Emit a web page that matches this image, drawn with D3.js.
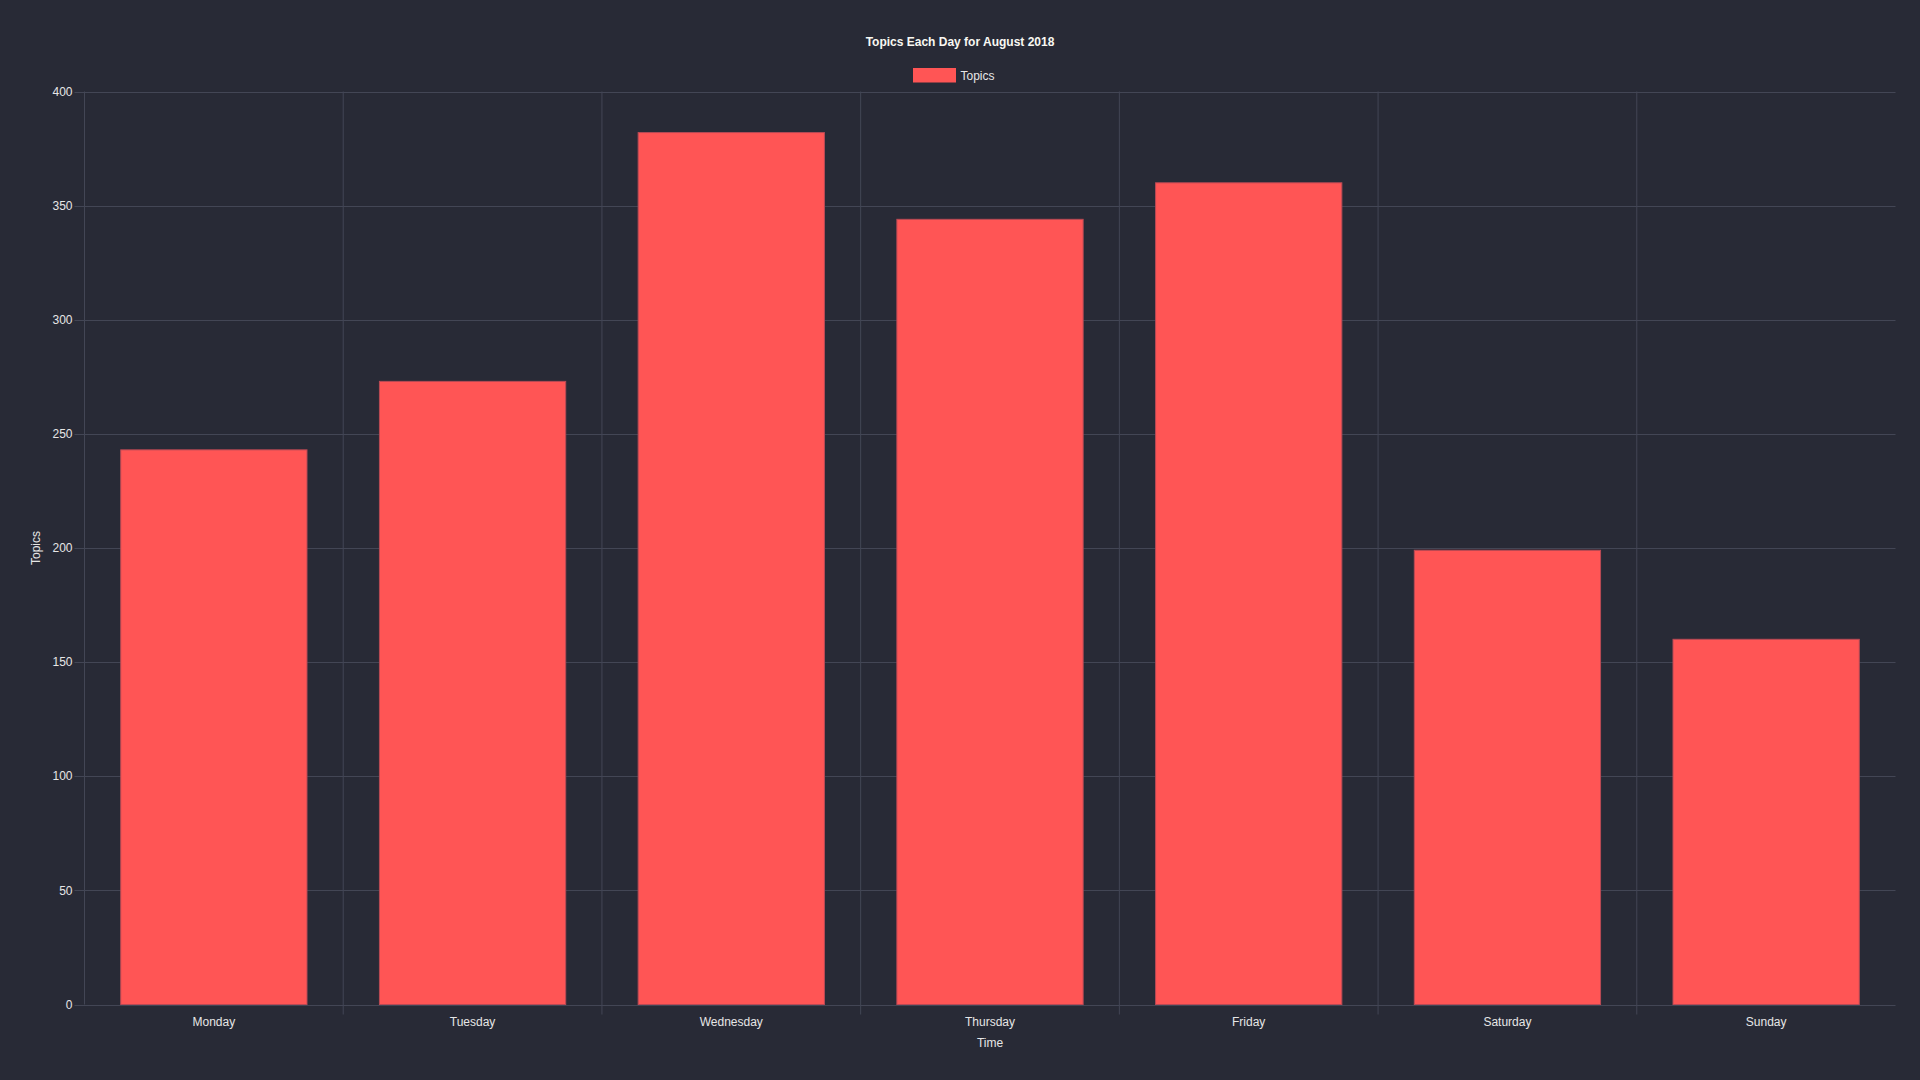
<!DOCTYPE html>
<html>
<head>
<meta charset="utf-8">
<script src="https://cdn.jsdelivr.net/npm/d3@7"></script>
<style>
  html, body { margin: 0; padding: 0; background: #282a36; }
  svg { display: block; }
</style>
</head>
<body>
<svg id="chart" width="1920" height="1080"></svg>
<script>
const categories = ["Monday", "Tuesday", "Wednesday", "Thursday", "Friday", "Saturday", "Sunday"];
const topicsValues = [243, 273, 382, 344, 360, 199, 160];
const yTicks = [0, 50, 100, 150, 200, 250, 300, 350, 400];
const titleText = "Topics Each Day for August 2018";
const seriesName = "Topics";
const xAxisTitle = "Time";
const yAxisTitle = "Topics";

const W = 1920, H = 1080;
const plot = { left: 84.5, right: 1895.5, top: 91.5, bottom: 1004.5 };
const gridColor = "#434655";
const barColor = "#ff5555";
const textColor = "#e6e6e6";
const font = "'Liberation Sans', Arial, Helvetica, sans-serif";

const svg = d3.select("#chart");
svg.append("rect").attr("width", W).attr("height", H).attr("fill", "#282a36");

const x = d3.scaleBand().domain(categories).range([plot.left, plot.right]).paddingInner(0).paddingOuter(0);
const y = d3.scaleLinear().domain([0, 400]).range([plot.bottom, plot.top]);

// Horizontal gridlines with tick marks
const gH = svg.append("g");
yTicks.forEach(t => {
  gH.append("line")
    .attr("x1", plot.left - 10).attr("x2", plot.right)
    .attr("y1", Math.round(y(t)) + 0.5).attr("y2", Math.round(y(t)) + 0.5)
    .attr("stroke", gridColor).attr("stroke-width", 1);
});

// Vertical gridlines at category boundaries (no right border)
const bounds = categories.map(c => x(c));
bounds.forEach((bx, i) => {
  gH.append("line")
    .attr("x1", bx).attr("x2", bx)
    .attr("y1", plot.top).attr("y2", i === 0 ? plot.bottom : plot.bottom + 10)
    .attr("stroke", gridColor).attr("stroke-width", 1);
});

// Bars
const barW = x.bandwidth() * 0.72;
svg.append("g").selectAll("rect").data(categories).join("rect")
  .attr("x", c => x(c) + (x.bandwidth() - barW) / 2)
  .attr("y", (c, i) => y(topicsValues[i]))
  .attr("width", barW)
  .attr("height", (c, i) => y(0) - y(topicsValues[i]))
  .attr("fill", barColor)
  .attr("stroke", "#b94a55")
  .attr("stroke-width", 1);

// Y tick labels
svg.append("g").selectAll("text").data(yTicks).join("text")
  .attr("x", plot.left - 12)
  .attr("y", t => y(t))
  .attr("dy", "0.35em")
  .attr("text-anchor", "end")
  .attr("font-family", font).attr("font-size", 12)
  .attr("fill", textColor)
  .text(t => t);

// X tick labels
svg.append("g").selectAll("text").data(categories).join("text")
  .attr("x", c => x(c) + x.bandwidth() / 2)
  .attr("y", plot.bottom + 21)
  .attr("text-anchor", "middle")
  .attr("font-family", font).attr("font-size", 12)
  .attr("fill", textColor)
  .text(c => c);

// Axis titles
svg.append("text")
  .attr("x", (plot.left + plot.right) / 2)
  .attr("y", 1047)
  .attr("text-anchor", "middle")
  .attr("font-family", font).attr("font-size", 12)
  .attr("fill", textColor)
  .text(xAxisTitle);

svg.append("text")
  .attr("transform", `translate(39.5, ${(plot.top + plot.bottom) / 2}) rotate(-90)`)
  .attr("text-anchor", "middle")
  .attr("font-family", font).attr("font-size", 12)
  .attr("fill", textColor)
  .text(yAxisTitle);

// Title
svg.append("text")
  .attr("x", W / 2)
  .attr("y", 46)
  .attr("text-anchor", "middle")
  .attr("font-family", font).attr("font-size", 12).attr("font-weight", "bold")
  .attr("fill", "#f8f8f2")
  .text(titleText);

// Legend
svg.append("rect")
  .attr("x", 913).attr("y", 68)
  .attr("width", 43).attr("height", 14.5)
  .attr("fill", barColor);
svg.append("text")
  .attr("x", 960.5).attr("y", 79.5)
  .attr("font-family", font).attr("font-size", 12)
  .attr("fill", textColor)
  .text(seriesName);
</script>
</body>
</html>
